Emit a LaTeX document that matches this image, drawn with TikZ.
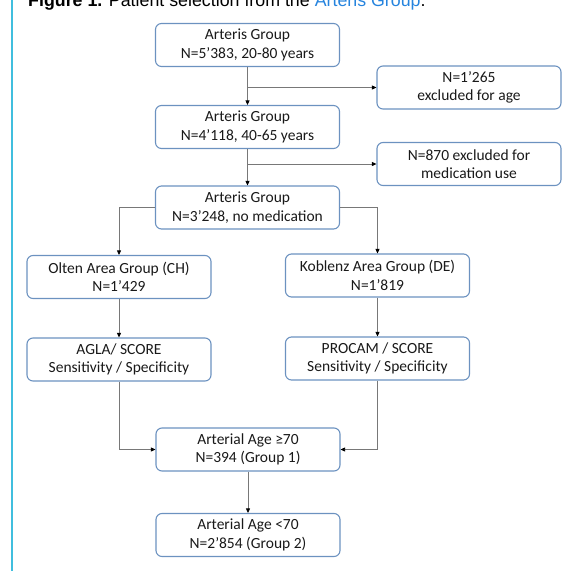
\documentclass[tikz,border=0pt]{standalone}
\usepackage{fontspec}
\setmainfont{Carlito}
\newfontfamily\captionfont{Liberation Sans}
\usetikzlibrary{arrows.meta,positioning}
\definecolor{boxblue}{RGB}{108,146,192}
\definecolor{linegray}{RGB}{120,120,120}
\definecolor{linkblue}{RGB}{38,132,222}
\definecolor{barcyan}{RGB}{64,190,222}
\tikzset{/flow/box/.style={rectangle, draw=boxblue, line width=1.1pt, rounded corners=6pt, minimum width=184pt, minimum height=43pt, align=center, inner sep=0pt, text=black!90, font=\fontsize{15.5}{18.5}\selectfont
}}
\tikzset{/flow/arrow/.style={draw=linegray, line width=0.8pt, -{Triangle[length=4.5pt, width=4pt, color=black]}
}}

\begin{document}
\begin{tikzpicture}[x=1pt, y=-1pt]
		\useasboundingbox (0,0) rectangle (567,571);
		\draw[barcyan, line width=1.5pt] (12,0) -- (12,571);
		\node[anchor=base west, inner sep=0pt, font=\captionfont\fontsize{17.8}{21}\selectfont] (caption) at (28,6.5) {\textbf{Figure 1.} Patient selection from the \textcolor{linkblue}{Arteris Group}.};
		\node[/flow/box] (all) at (247.5,45) {Arteris Group\\N=5’383, 20-80 years};
		\node[/flow/box] (noage) at (469,87.5) {N=1’265\\excluded for age};
		\node[/flow/box] (age) at (247.5,127) {Arteris Group\\N=4’118, 40-65 years};
		\node[/flow/box] (nomed) at (469,164) {N=870 excluded for\\medication use};
		\node[/flow/box] (clean) at (247.5,207.5) {Arteris Group\\N=3’248, no medication};
		\node[/flow/box] (olten) at (119,277) {Olten Area Group (CH)\\N=1’429};
		\node[/flow/box] (koblenz) at (377.5,275.5) {Koblenz Area Group (DE)\\N=1’819};
		\node[/flow/box] (agla) at (119,359.5) {AGLA/ SCORE\\Sensitivity / Specificity};
		\node[/flow/box] (procam) at (377.5,358.5) {PROCAM / SCORE\\Sensitivity / Specificity};
		\node[/flow/box] (old) at (248,449.5) {Arterial Age ≥70\\N=394 (Group 1)};
		\node[/flow/box] (young) at (248,535) {Arterial Age <70\\N=2’854 (Group 2)};
		\draw[/flow/arrow] (all.south) -- (age.north);
		\draw[/flow/arrow] (all.south |- noage.west) -- (noage.west);
		\draw[/flow/arrow] (age.south) -- (clean.north);
		\draw[/flow/arrow] (age.south |- nomed.west) -- (nomed.west);
		\draw[/flow/arrow] (clean.west) -| (olten.north);
		\draw[/flow/arrow] (clean.east) -| (koblenz.north);
		\draw[/flow/arrow] (olten.south) -- (agla.north);
		\draw[/flow/arrow] (koblenz.south) -- (procam.north);
		\draw[/flow/arrow] (agla.south) |- (old.west);
		\draw[/flow/arrow] (procam.south) |- (old.east);
		\draw[/flow/arrow] (old.south) -- (young.north);
	\end{tikzpicture}
\end{document}
